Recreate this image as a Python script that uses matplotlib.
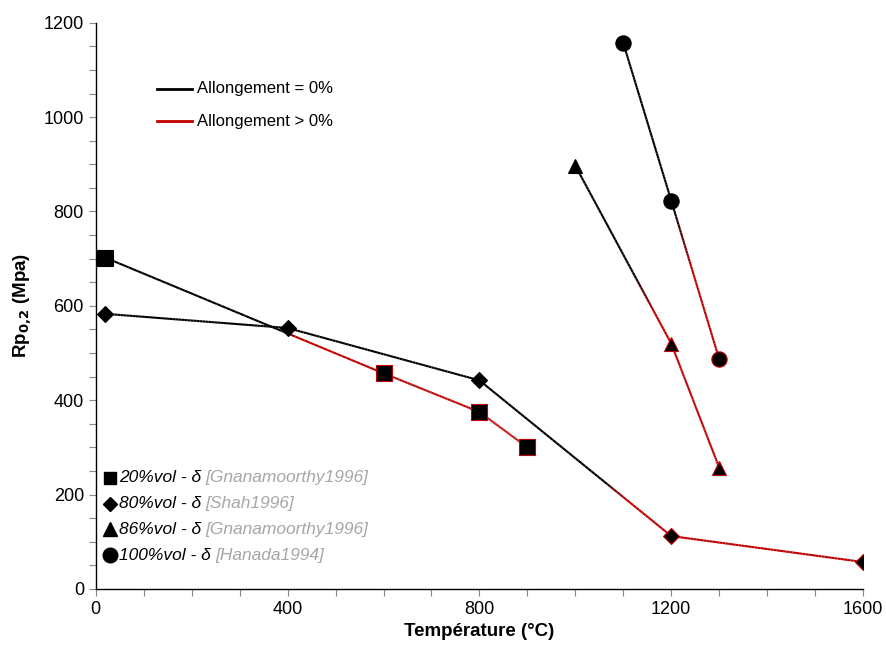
import matplotlib
matplotlib.use("Agg")
import matplotlib.pyplot as plt
import numpy as np
from matplotlib.collections import LineCollection
from matplotlib.colors import to_rgba
from matplotlib.ticker import MultipleLocator

plt.rcParams["font.family"] = ["Liberation Sans", "DejaVu Sans"]

# data (temperature in °C, Rp0.2 in MPa)
sq_x = [20, 600, 800, 900]
sq_y = [702, 457, 375, 300]
di_x = [20, 400, 800, 1200, 1600]
di_y = [583, 553, 442, 112, 57]
tr_x = [1000, 1200, 1300]
tr_y = [897, 520, 257]
ci_x = [1100, 1200, 1300]
ci_y = [1157, 823, 487]
# x where the line turns from black (allongement = 0) to red (> 0)
switch_x = {"sq": 400, "di": 1080, "tr": 1145, "ci": 1225}

labels = ["20%vol - δ ", "80%vol - δ ", "86%vol - δ ", "100%vol - δ "]
refs = ["[Gnanamoorthy1996]", "[Shah1996]", "[Gnanamoorthy1996]", "[Hanada1994]"]

BLACK = "#000000"
RED = "#c00000"

fig = plt.figure(figsize=(8.87, 6.5), dpi=100)
ax = fig.add_axes([0.108, 0.094, 0.865, 0.871])


def draw_series(xs, ys, sx, marker, ms):
    xs = np.asarray(xs, float); ys = np.asarray(ys, float)
    # dense polyline for a smooth black -> red blend
    xx = np.concatenate([np.linspace(xs[i], xs[i + 1], 60, endpoint=False) for i in range(len(xs) - 1)] + [xs[-1:]])
    yy = np.interp(xx, xs, ys)
    pts = np.column_stack([xx, yy]).reshape(-1, 1, 2)
    segs = np.concatenate([pts[:-1], pts[1:]], axis=1)
    mid = (xx[:-1] + xx[1:]) / 2
    t = np.clip((mid - sx) / 40 + 0.5, 0, 1)
    c0 = np.array(to_rgba(BLACK)); c1 = np.array(to_rgba(RED))
    cols = c0[None, :] * (1 - t[:, None]) + c1[None, :] * t[:, None]
    ax.add_collection(LineCollection(segs, colors=cols, linewidths=1.5, zorder=2))
    for x, y in zip(xs, ys):
        ec = RED if x > sx else BLACK
        ax.plot(x, y, marker=marker, ms=ms, mfc="black", mec=ec, mew=0.8, zorder=3, ls="none")


draw_series(sq_x, sq_y, switch_x["sq"], "s", 11)
draw_series(di_x, di_y, switch_x["di"], "D", 8)
draw_series(tr_x, tr_y, switch_x["tr"], "^", 10)
draw_series(ci_x, ci_y, switch_x["ci"], "o", 11)

ax.set_xlim(0, 1600)
ax.set_ylim(0, 1200)
ax.xaxis.set_major_locator(MultipleLocator(400))
ax.xaxis.set_minor_locator(MultipleLocator(100))
ax.yaxis.set_major_locator(MultipleLocator(200))
ax.yaxis.set_minor_locator(MultipleLocator(50))
ax.tick_params(which="both", direction="out", length=5, width=0.8, color="#888888", labelsize=13)
for s in ["top", "right"]:
    ax.spines[s].set_visible(False)
ax.spines["left"].set_linewidth(1.0)
ax.spines["bottom"].set_linewidth(1.0)

ax.set_xlabel("Température (°C)", fontsize=13.5, fontweight="bold", labelpad=4)
ax.set_ylabel("Rp$_{\\mathbf{0{,}2}}$ (Mpa)", fontsize=13.5, fontweight="bold", labelpad=7)

# line-colour legend
for i, (c, txt) in enumerate([(BLACK, "Allongement = 0%"), (RED, "Allongement > 0%")]):
    y = 0.883 - i * 0.057
    ax.plot([0.080, 0.125], [y, y], color=c, lw=2, transform=ax.transAxes, clip_on=False)
    ax.text(0.132, y, txt, transform=ax.transAxes, va="center", fontsize=12)

# marker legend
for i, (m, ms, lab, ref) in enumerate(zip(["s", "D", "^", "o"], [9, 7.5, 10, 10.5], labels, refs)):
    y = 0.196 - i * 0.0455
    ax.plot([0.0185], [y], marker=m, ms=ms, color="black", transform=ax.transAxes, clip_on=False)
    t1 = ax.text(0.030, y, lab, transform=ax.transAxes, va="center", fontsize=12.5, style="italic")
    ax.annotate(ref, xy=(1, 0.5), xycoords=t1, va="center", ha="left",
                fontsize=12.5, style="italic", color="#a6a6a6")

fig.savefig("out.png", dpi=100)
